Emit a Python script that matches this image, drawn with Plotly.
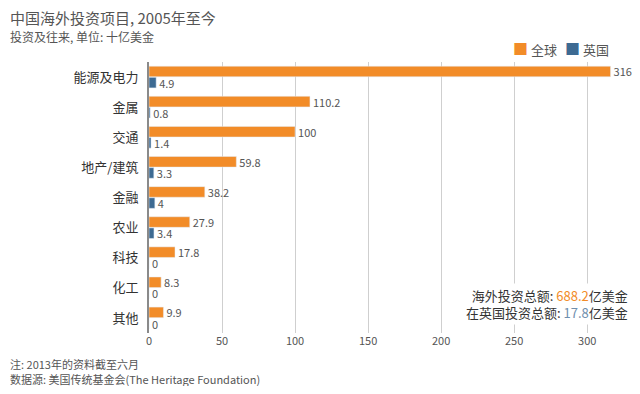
import plotly.graph_objects as go

categories = ["能源及电力", "金属", "交通", "地产/建筑", "金融", "农业", "科技", "化工", "其他"]
global_vals = [316, 110.2, 100, 59.8, 38.2, 27.9, 17.8, 8.3, 9.9]
uk_vals = [4.9, 0.8, 1.4, 3.3, 4, 3.4, 0, 0, 0]
x_ticks = [0, 50, 100, 150, 200, 250, 300]
series_names = ["全球", "英国"]

ORANGE = "#f28c28"
BLUE = "#3d6a92"
FONT = "Noto Sans CJK SC, Noto Sans, sans-serif"

# page has an 8px body margin; visible figure area is page x 8..632, y 8..386
OFF = 8
W, H = 640 - 2 * OFF, 394 - 2 * OFF
PL, PR, PT, PB = 149, 631, 62, 333          # plot area in page pixels
L, R, T, B = PL - OFF, W - (PR - OFF), PT - OFF, H - (PB - OFF)
PW, PH = PR - PL, PB - PT

def fmt(v):
    return str(int(v)) if float(v).is_integer() else str(v)

def px(xp):
    return (xp - PL) / PW

def py(yp):
    return (PB - yp) / PH

fig = go.Figure()
for name, vals, color in [(series_names[0], global_vals, ORANGE), (series_names[1], uk_vals, BLUE)]:
    fig.add_trace(go.Bar(
        y=categories, x=vals, orientation="h", name=name,
        marker=dict(color=color), text=[fmt(v) for v in vals],
        textposition="outside", constraintext="none",
        textfont=dict(color="#555", size=11, family=FONT), cliponaxis=False,
        showlegend=False,
    ))

fig.update_layout(
    width=W, height=H,
    barmode="group", bargap=0.26, bargroupgap=0.05,
    margin=dict(l=L, r=R, t=T, b=B, autoexpand=False),
    paper_bgcolor="white", plot_bgcolor="white",
    font=dict(family=FONT, color="#555"),
    showlegend=False,
    xaxis=dict(range=[0, 330], tickvals=x_ticks, showgrid=True, gridcolor="#cfcfcf",
               gridwidth=1, zeroline=False, showline=False, automargin=False,
               tickfont=dict(size=11, color="#555")),
    yaxis=dict(autorange="reversed", showline=True, linecolor="#8a8a8a", linewidth=2,
               ticks="", ticklabelstandoff=6, automargin=False,
               tickfont=dict(size=13, color="#333")),
)

# legend drawn as text
for lx, name, color in [(511, series_names[0], ORANGE), (563, series_names[1], BLUE)]:
    fig.add_annotation(xref="paper", yref="paper", x=px(lx), y=py(48),
                       xanchor="left", yanchor="middle", showarrow=False,
                       text=f"<span style='color:{color};font-size:15px'>■</span> {name}",
                       font=dict(size=13, color="#555"))

anns = [
    dict(x=8, y=17, text="中国海外投资项目, 2005年至今", size=15),
    dict(x=8, y=37, text="投资及往来, 单位: 十亿美金", size=12),
    dict(x=8, y=364, text="注: 2013年的资料截至六月", size=11),
    dict(x=8, y=379, text="数据源: 美国传统基金会(The Heritage Foundation)", size=11),
]
for a in anns:
    fig.add_annotation(xref="paper", yref="paper", x=px(a["x"]), y=py(a["y"]),
                       xanchor="left", yanchor="middle", showarrow=False,
                       text=a["text"], font=dict(size=a["size"], color="#555"))

fig.add_annotation(
    xref="paper", yref="paper", x=px(631), y=py(304),
    xanchor="right", yanchor="middle", showarrow=False, align="right",
    bgcolor="white", borderpad=2,
    text=(f"海外投资总额: <span style='color:{ORANGE}'>688.2</span>亿美金<br>"
          f"在英国投资总额: <span style='color:#6f8fae'>17.8</span>亿美金"),
    font=dict(size=13, color="#333"),
)

fig.write_html("out.html")
